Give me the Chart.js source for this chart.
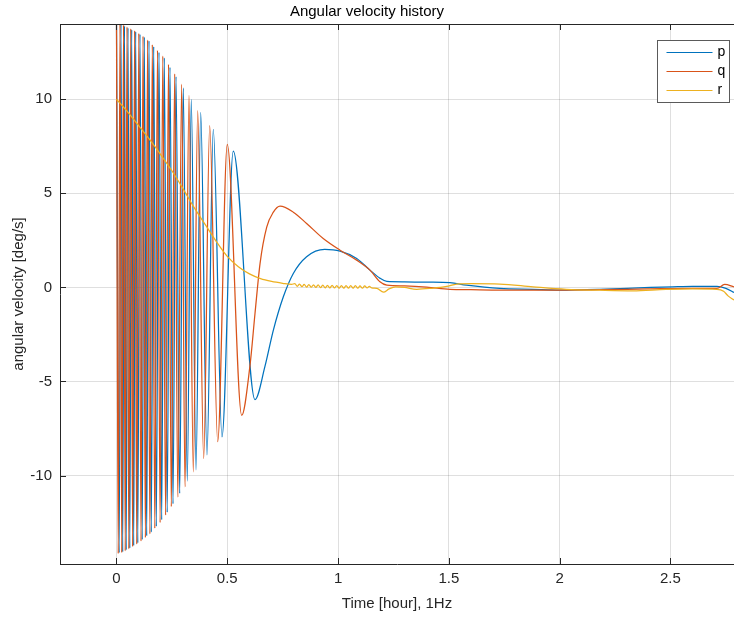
<!DOCTYPE html>
<html lang="en">
<head>
    <meta charset="UTF-8">
    <title>Angular velocity history</title>
    <script src="https://cdn.jsdelivr.net/npm/chart.js@4.4.1/dist/chart.umd.min.js"></script>
    <style>
        body { margin: 0; background: #ffffff; }
        #chart { display: block; }
    </style>
</head>
<body>
    <canvas id="chart" width="734" height="618"></canvas>

    <script>
        // Values (time in hours, rates in deg/s)
        const pX = [0.0, 0.0122, 0.0203, 0.0280, 0.0361, 0.0438, 0.0519, 0.0600, 0.0686, 0.0776,
            0.0866, 0.0961, 0.1060, 0.1160, 0.1255, 0.1363, 0.1467, 0.1570, 0.1679, 0.1796,
            0.1918, 0.2040, 0.2157, 0.2288, 0.2414, 0.2550, 0.2685, 0.2852, 0.3014, 0.3195,
            0.3375, 0.3588, 0.3800, 0.4084, 0.4368, 0.4761, 0.527, 0.625,
            0.67, 0.708, 0.753, 0.798, 0.858, 0.94, 1.009, 1.084, 1.144, 1.19, 1.22, 1.30,
            1.40, 1.505, 1.58, 1.73, 1.88, 2.0, 2.18, 2.41, 2.51, 2.6, 2.71, 2.75, 2.787];
        const pY = [14.1, -14.1, 14.0, -14.05, 13.9, -13.95, 13.8, -13.85, 13.7, -13.72,
            13.6, -13.58, 13.45, -13.4, 13.3, -13.2, 13.1, -13.0, 12.8, -12.7,
            12.5, -12.35, 12.2, -11.95, 11.7, -11.5, 11.2, -10.95, 10.6, -10.3,
            10.0, -9.7, 9.3, -8.9, 8.4, -7.95, 7.25, -5.96,
            -4.2, -2.27, -0.5, 0.74, 1.63, 2.02, 1.93, 1.54, 0.92, 0.48, 0.32, 0.3,
            0.28, 0.25, 0.12, -0.05, -0.1, -0.14, -0.1, 0.0, 0.03, 0.05, 0.05, -0.05, -0.27];

        const qX = [0.0, 0.0077, 0.0158, 0.0235, 0.0316, 0.0393, 0.0474, 0.0555, 0.0641, 0.0727,
            0.0817, 0.0912, 0.1006, 0.1106, 0.1196, 0.1304, 0.1403, 0.1507, 0.1616, 0.1728,
            0.1850, 0.1968, 0.2089, 0.2216, 0.2347, 0.2473, 0.2626, 0.2766, 0.2942, 0.3091,
            0.3272, 0.3466, 0.3664, 0.3935, 0.4206, 0.4567, 0.5000, 0.5650,
            0.602, 0.625, 0.648, 0.678, 0.708, 0.738, 0.798, 0.858, 0.933, 1.009, 1.084, 1.144,
            1.189, 1.22, 1.30, 1.40, 1.505, 1.6, 1.73, 2.0, 2.18, 2.4, 2.6, 2.71, 2.745, 2.787];
        const qY = [14.1, -14.15, 14.05, -14.1, 13.95, -14.0, 13.85, -13.9, 13.75, -13.78,
            13.65, -13.65, 13.5, -13.48, 13.35, -13.3, 13.15, -13.1, 12.9, -12.8,
            12.6, -12.5, 12.3, -12.1, 11.85, -11.65, 11.35, -11.15, 10.8, -10.6,
            10.2, -9.8, 9.4, -9.1, 8.6, -8.2, 7.6, -6.8,
            -4.2, -1.4, 1.28, 3.2, 4.0, 4.32, 4.0, 3.4, 2.6, 1.98, 1.45, 0.92,
            0.3, 0.12, 0.08, 0.02, -0.1, -0.12, -0.14, -0.14, -0.12, -0.08, -0.05, -0.05, 0.16, 0.03];

        const rX = [0.0, 0.05, 0.1, 0.15, 0.2, 0.25, 0.3, 0.35, 0.4, 0.45, 0.5, 0.55, 0.6, 0.65,
            0.7, 0.75, 0.79,
            0.805, 0.816, 0.826, 0.837, 0.847, 0.858, 0.868, 0.879, 0.889, 0.900, 0.910, 0.921,
            0.931, 0.942, 0.952, 0.963, 0.973, 0.984, 0.994, 1.005, 1.015, 1.026, 1.036, 1.047,
            1.057, 1.068, 1.078, 1.089, 1.099, 1.110, 1.120, 1.131, 1.141, 1.152,
            1.175, 1.205, 1.23, 1.26, 1.30, 1.355, 1.42, 1.49, 1.535, 1.6, 1.73, 1.88, 2.03,
            2.18, 2.33, 2.48, 2.6, 2.71, 2.74, 2.76, 2.787];
        const rY = [10.0, 9.33, 8.6, 7.85, 7.05, 6.2, 5.25, 4.25, 3.35, 2.45, 1.65, 1.1, 0.72, 0.47,
            0.32, 0.22, 0.16,
            0.20, 0.06, 0.18, 0.04, 0.16, 0.02, 0.15, 0.01, 0.14, 0.0, 0.13, -0.01,
            0.12, -0.02, 0.11, -0.03, 0.11, -0.03, 0.10, -0.04, 0.10, -0.04, 0.10, -0.04,
            0.09, -0.04, 0.09, -0.04, 0.08, -0.04, 0.08, -0.03, 0.06, -0.03,
            -0.05, -0.25, -0.08, 0.03, 0.0, -0.1, -0.05, 0.05, 0.18, 0.2, 0.18, 0.03, -0.1,
            -0.15, -0.18, -0.1, -0.08, -0.1, -0.2, -0.45, -0.67];

        const seriesNames = ['p', 'q', 'r'];
        const seriesColors = ['#0072BD', '#D95319', '#EDB120'];
        const xTicks = [0, 0.5, 1, 1.5, 2, 2.5];
        const yTicks = [-10, -5, 0, 5, 10];

        const axisColor = '#262626';
        const fontFamily = '"Liberation Sans", Arial, Helvetica, sans-serif';

        function toPoints(xs, ys) {
            return xs.map((x, i) => ({ x: x, y: ys[i] }));
        }

        // Box on top, inward tick marks and legend drawn like MATLAB
        const matlabAxes = {
            id: 'matlabAxes',
            afterDraw(chart) {
                const ctx = chart.ctx;
                const area = chart.chartArea;
                const xs = chart.scales.x;
                const ys = chart.scales.y;
                const tick = 6;

                ctx.save();
                ctx.strokeStyle = axisColor;
                ctx.lineWidth = 1;
                ctx.beginPath();
                ctx.moveTo(area.left, area.top + 0.5);
                ctx.lineTo(area.right, area.top + 0.5);
                xTicks.forEach(v => {
                    const px = Math.round(xs.getPixelForValue(v)) + 0.5;
                    ctx.moveTo(px, area.bottom);
                    ctx.lineTo(px, area.bottom - tick);
                    ctx.moveTo(px, area.top);
                    ctx.lineTo(px, area.top + tick);
                });
                yTicks.forEach(v => {
                    const py = Math.round(ys.getPixelForValue(v)) + 0.5;
                    ctx.moveTo(area.left, py);
                    ctx.lineTo(area.left + tick, py);
                });
                ctx.stroke();

                // legend box
                const boxW = 72, boxH = 62;
                const bx = area.right - boxW - 4.5;
                const by = area.top + 16.5;
                ctx.fillStyle = '#ffffff';
                ctx.fillRect(bx, by, boxW, boxH);
                ctx.strokeStyle = '#5a5a5a';
                ctx.strokeRect(bx, by, boxW, boxH);
                ctx.font = '14px ' + fontFamily;
                ctx.textBaseline = 'middle';
                ctx.fillStyle = '#000000';
                chart.data.datasets.forEach((ds, i) => {
                    const ly = by + 12 + i * 19;
                    ctx.strokeStyle = ds.borderColor;
                    ctx.lineWidth = 1.2;
                    ctx.beginPath();
                    ctx.moveTo(bx + 9, ly);
                    ctx.lineTo(bx + 55, ly);
                    ctx.stroke();
                    ctx.fillText(ds.label, bx + 60, ly);
                });
                ctx.restore();
            }
        };

        Chart.defaults.font.family = fontFamily;
        Chart.defaults.color = axisColor;

        new Chart(document.getElementById('chart'), {
            type: 'line',
            data: {
                datasets: [
                    { label: seriesNames[0], data: toPoints(pX, pY), borderColor: seriesColors[0], order: 3 },
                    { label: seriesNames[1], data: toPoints(qX, qY), borderColor: seriesColors[1], order: 2 },
                    { label: seriesNames[2], data: toPoints(rX, rY), borderColor: seriesColors[2], order: 1 }
                ]
            },
            options: {
                responsive: false,
                animation: false,
                events: [],
                layout: { padding: 0 },
                elements: {
                    line: { borderWidth: 1.25, cubicInterpolationMode: 'monotone', fill: false },
                    point: { radius: 0 }
                },
                scales: {
                    x: {
                        type: 'linear',
                        min: -0.255,
                        max: 2.787,
                        afterBuildTicks: s => { s.ticks = xTicks.map(v => ({ value: v })); },
                        afterFit: s => { s.height = 54; },
                        ticks: { font: { size: 15 }, padding: 6, maxRotation: 0, callback: v => String(v) },
                        grid: { color: 'rgba(38,38,38,0.15)', drawTicks: false },
                        border: { display: true, color: axisColor, width: 1 },
                        title: { display: true, text: 'Time [hour], 1Hz', font: { size: 15 }, padding: { top: 0, bottom: 5 } }
                    },
                    y: {
                        type: 'linear',
                        min: -14.7,
                        max: 14,
                        afterBuildTicks: s => { s.ticks = yTicks.map(v => ({ value: v })); },
                        afterFit: s => { s.width = 60; },
                        ticks: { font: { size: 15 }, padding: 8, callback: v => String(v) },
                        grid: { color: 'rgba(38,38,38,0.15)', drawTicks: false },
                        border: { display: true, color: axisColor, width: 1 },
                        title: { display: true, text: 'angular velocity [deg/s]', font: { size: 15 }, padding: { top: 10, bottom: 0 } }
                    }
                },
                plugins: {
                    legend: { display: false },
                    tooltip: { enabled: false },
                    title: {
                        display: true,
                        text: 'Angular velocity history',
                        color: '#000000',
                        font: { size: 15, weight: 'normal' },
                        padding: { top: 3, bottom: 3 }
                    }
                }
            },
            plugins: [matlabAxes]
        });
    </script>
</body>
</html>
